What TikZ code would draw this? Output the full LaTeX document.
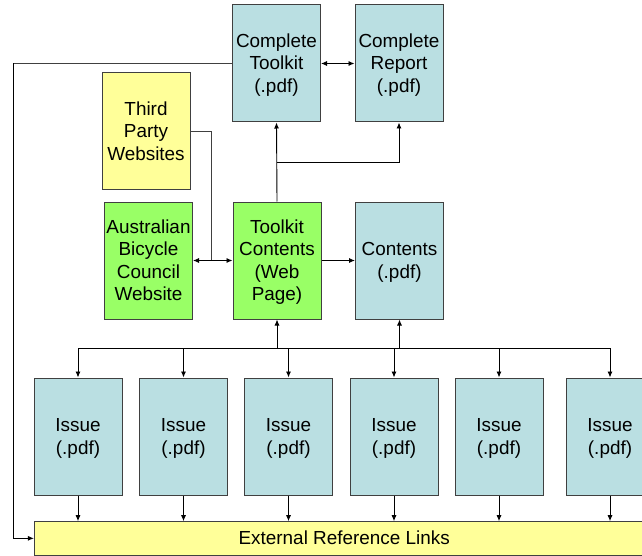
\documentclass[tikz,border=0pt]{standalone}
\usepackage{fontspec}
\setmainfont{Liberation Sans}
\usetikzlibrary{arrows.meta}
\definecolor{cyanbox}{HTML}{BADFE2}
\definecolor{greenbox}{HTML}{99FF66}
\definecolor{yellowbox}{HTML}{FFFF99}
\definecolor{edge}{HTML}{404040}
\newcommand{\fstrut}{\rule{0pt}{17.5pt}}
\begin{document}
\begin{tikzpicture}[x=1pt,y=-1pt,
  box/.style={draw=edge, line width=1pt, rectangle, inner sep=0pt, align=center,
    minimum width=88pt, minimum height=117pt, text depth=5pt,
    font=\fontsize{18.9}{22.5}\selectfont},
  pdfbox/.style={box, fill=cyanbox},
  webbox/.style={box, fill=greenbox},
  extbox/.style={box, fill=yellowbox},
  arr/.style={-{Latex[length=6pt,width=5pt]}, line width=0.9pt, draw=black},
  darr/.style={{Latex[length=6pt,width=5pt]}-{Latex[length=6pt,width=5pt]}, line width=0.9pt, draw=black},
  ln/.style={line width=0.9pt, draw=edge}]
\useasboundingbox (0,0) rectangle (642,556);
\clip (0,0) rectangle (642,556);
% top row
\node[pdfbox] (ct) at (276.5,63.5) {\fstrut Complete\\Toolkit\\(.pdf)};
\node[pdfbox] (cr) at (399,63.5) {\fstrut Complete\\Report\\(.pdf)};
\node[extbox] (tp) at (146,131.5) {\fstrut Third\\Party\\Websites};
% middle row
\node[webbox] (abc) at (148.5,260.5) {\fstrut Australian\\Bicycle\\Council\\Website};
\node[webbox] (tc) at (277,260.5) {\fstrut Toolkit\\Contents\\(Web\\Page)};
\node[pdfbox] (cp) at (399.5,260.5) {\fstrut Contents\\(.pdf)};
% issues
\node[pdfbox] (i1) at (78,436.5) {\fstrut Issue\\(.pdf)};
\node[pdfbox] (i2) at (183.5,436.5) {\fstrut Issue\\(.pdf)};
\node[pdfbox] (i3) at (288.5,436.5) {\fstrut Issue\\(.pdf)};
\node[pdfbox] (i4) at (394,436.5) {\fstrut Issue\\(.pdf)};
\node[pdfbox] (i5) at (499,436.5) {\fstrut Issue\\(.pdf)};
\node[pdfbox] (i6) at (610,436.5) {\fstrut Issue\\(.pdf)};
% external links
\node[extbox, minimum width=619.6pt, minimum height=33.3pt] (erl) at (344.2,538.35) {\fstrut External Reference Links};
% coordinates
\coordinate (bus) at (277,348.3);
\coordinate (lft) at (13,63.5);
\coordinate (tj) at (211,260.5);
\coordinate (split) at (277,162.5);
% connectors
\draw[darr] (ct.east) -- (cr.west);
\draw[arr] (tc.north) -- (ct.south);
\draw[arr] (split) -| (cr.south);
\draw[ln] (ct.west) -- (lft);
\draw[arr] (lft) |- (erl.west);
\draw[ln] (tp.east) -| (tj);
\draw[darr] (abc.east) -- (tc.west);
\draw[arr] (tc.east) -- (cp.west);
\draw[arr] (bus) -- (tc.south);
\draw[arr] (bus) -| (cp.south);
\foreach \i in {i1,i2,i3,i4,i5,i6}{
  \draw[arr] (bus) -| (\i.north);
  \draw[arr] (\i.south) -- (\i.south |- erl.north);
}
\end{tikzpicture}
\end{document}
